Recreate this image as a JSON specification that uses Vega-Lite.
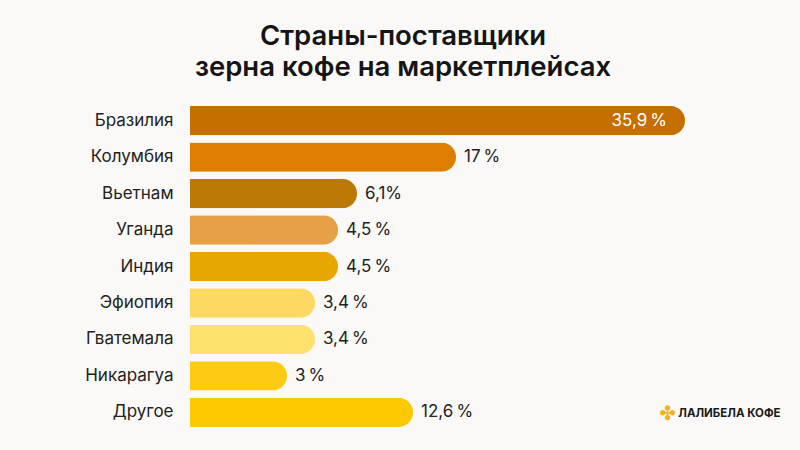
{
  "$schema": "https://vega.github.io/schema/vega-lite/v6.json",
  "width": 426,
  "height": 321,
  "autosize": "none",
  "padding": {"left": 190, "top": 106, "right": 184, "bottom": 23},
  "background": "#FAF9F7",
  "view": {"stroke": null},
  "title": {
    "text": ["Страны-поставщики", "зерна кофе на маркетплейсах"],
    "font": "Inter",
    "fontSize": 27.5,
    "fontWeight": 600,
    "lineHeight": 31,
    "color": "#151515",
    "anchor": "middle",
    "offset": 25
  },
  "data": {
    "values": [
      {"country": "Бразилия", "value": 35.9, "label": "35,9\u202f%"},
      {"country": "Колумбия", "value": 17, "label": "17\u202f%"},
      {"country": "Вьетнам", "value": 6.1, "label": "6,1%"},
      {"country": "Уганда", "value": 4.5, "label": "4,5\u202f%"},
      {"country": "Индия", "value": 4.5, "label": "4,5\u202f%"},
      {"country": "Эфиопия", "value": 3.4, "label": "3,4\u202f%"},
      {"country": "Гватемала", "value": 3.4, "label": "3,4\u202f%"},
      {"country": "Никарагуа", "value": 3, "label": "3\u202f%"},
      {"country": "Другое", "value": 12.6, "label": "12,6\u202f%"}
    ]
  },
  "encoding": {
    "y": {
      "field": "country",
      "type": "nominal",
      "sort": null,
      "scale": {"paddingInner": 0.195, "paddingOuter": 0},
      "axis": {
        "title": null,
        "domain": false,
        "ticks": false,
        "labelPadding": 17,
        "labelFont": "Inter",
        "labelFontSize": 17,
        "labelColor": "#222222"
      }
    }
  },
  "layer": [
    {
      "encoding": {
        "x": {
          "field": "value",
          "type": "quantitative",
          "scale": {
            "domain": [0, 3, 3.4, 4.5, 6.1, 12.6, 17, 35.9],
            "range": [0, 97, 125, 148, 167, 223, 266, 495]
          },
          "axis": {
            "orient": "bottom",
            "grid": false,
            "domain": false,
            "ticks": false,
            "labels": false,
            "title": "ЛАЛИБЕЛА КОФЕ",
            "titleFont": "Inter",
            "titleFontSize": 11.5,
            "titleFontWeight": 700,
            "titleColor": "#1a1a1a",
            "titleAlign": "right",
            "titleAnchor": null,
            "titleX": 590,
            "titleY": -14,
            "titleBaseline": "middle"
          }
        }
      },
      "layer": [
        {
          "mark": {"type": "bar", "cornerRadiusEnd": 14.5},
          "encoding": {
            "color": {
              "field": "country",
              "type": "nominal",
              "legend": null,
              "scale": {
                "domain": ["Бразилия", "Колумбия", "Вьетнам", "Уганда", "Индия", "Эфиопия", "Гватемала", "Никарагуа", "Другое"],
                "range": ["#C46F00", "#DD7E00", "#BA7A05", "#E6A045", "#E8A700", "#FDD964", "#FEE06C", "#FDCB14", "#FDCA02"]
              }
            }
          }
        },
        {
          "transform": [{"filter": "datum.value < 30"}],
          "mark": {"type": "text", "align": "left", "baseline": "middle", "dx": 8, "font": "Inter", "fontSize": 17, "color": "#222222"},
          "encoding": {"text": {"field": "label"}}
        },
        {
          "transform": [{"filter": "datum.value >= 30"}],
          "mark": {"type": "text", "align": "right", "baseline": "middle", "dx": -18, "font": "Inter", "fontSize": 17, "color": "#FFFFFF"},
          "encoding": {"text": {"field": "label"}}
        }
      ]
    },
    {
      "mark": {"type": "bar", "opacity": 0},
      "encoding": {
        "x": {
          "field": "value",
          "type": "quantitative",
          "axis": {
            "orient": "top",
            "grid": false,
            "domain": false,
            "ticks": false,
            "labels": false,
            "title": "✤",
            "titleFont": "DejaVu Sans",
            "titleFontSize": 20,
            "titleFontWeight": 400,
            "titleColor": "#F0B41E",
            "titleAlign": "center",
            "titleAnchor": null,
            "titleX": 477,
            "titleY": 307,
            "titleBaseline": "middle"
          }
        }
      }
    }
  ],
  "resolve": {"scale": {"x": "independent"}, "axis": {"x": "independent"}}
}
